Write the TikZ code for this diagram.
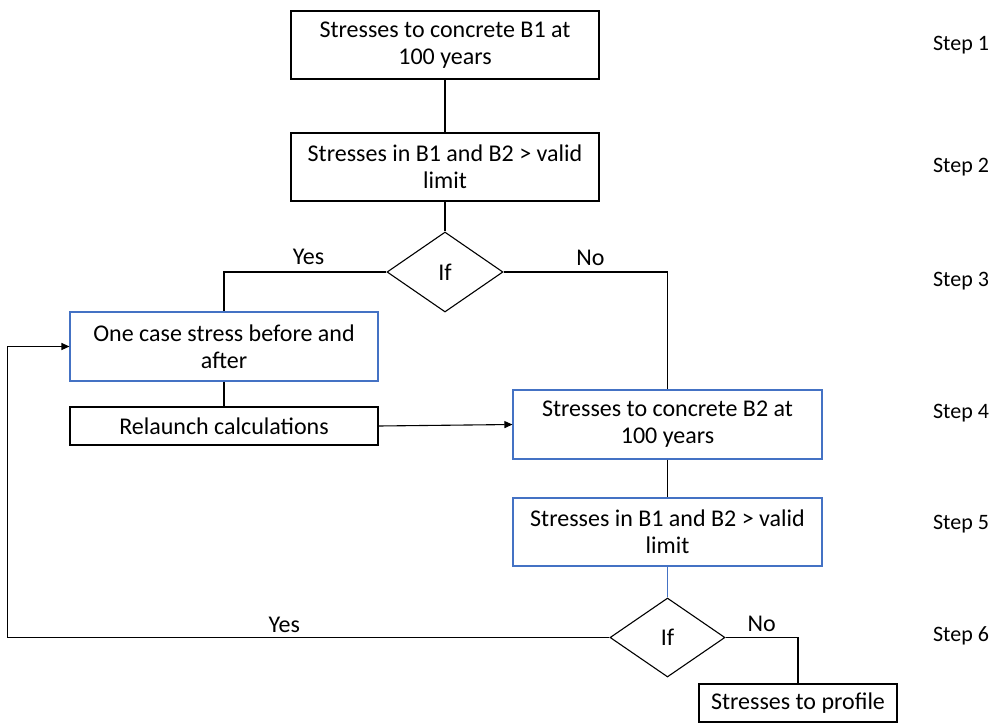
\documentclass[tikz,border=0pt]{standalone}
\usepackage{fontspec}
\setmainfont{Carlito}
\usetikzlibrary{shapes.geometric,arrows.meta,positioning}

\definecolor{boxblue}{RGB}{68,114,196}

\tikzstyle{blk} = [rectangle, minimum width=308pt, minimum height=68pt, text centered, align=center, draw=black, line width=1.1pt, fill=white]
\tikzstyle{blu} = [blk, draw=boxblue]
\tikzstyle{dec} = [diamond, minimum width=116pt, minimum height=80pt, inner sep=0pt, draw=black, line width=1.1pt, fill=white]
\tikzstyle{lbl} = [inner sep=0pt]

\begin{document}
\begin{tikzpicture}[x=1pt, y=-1pt, font=\fontsize{24}{27}\selectfont]
        \useasboundingbox[fill=white] (0,0) rectangle (997,723);
        \node (b1) [blk] at (445,45) {Stresses to concrete B1 at\\100 years};
        \node (b2) [blk] at (445,167) {Stresses in B1 and B2 > valid\\limit};
        \node (if1) [dec] at (445,272) {If};
        \node (onecase) [blu, minimum height=69pt] at (224,346.5) {One case stress before and\\after};
        \node (relaunch) [blk, minimum height=38pt] at (224,426) {Relaunch calculations};
        \node (c2) [blu, minimum width=309pt, minimum height=69pt] at (667.5,424.5) {Stresses to concrete B2 at\\100 years};
        \node (b5) [blu, minimum width=309pt] at (667.5,532) {Stresses in B1 and B2 > valid\\limit};
        \node (if2) [dec, minimum width=115pt, minimum height=79pt] at (667.5,637.5) {If};
        \node (profile) [blk, minimum width=198pt, minimum height=38pt] at (798,703) {Stresses to profile};

        \draw [line width=1.1pt] (b1) -- (b2);
        \draw [line width=1.1pt] (b2) -- (if1);
        \draw [line width=1.1pt] (if1.west) -| node[lbl, pos=0.24, above=7pt] {Yes} (onecase.north);
        \draw [line width=1.1pt] (if1.east) -| node[lbl, pos=0.265, above=6pt] {No} (c2.north);
        \draw [line width=1.1pt] (onecase) -- (relaunch);
        \draw [line width=1.1pt, -{Triangle[length=8pt, width=7pt]}] (relaunch.east) -- (c2.west);
        \draw [line width=1.1pt] (c2) -- (b5);
        \draw [line width=1.1pt, draw=boxblue] (b5) -- (if2);
        \draw [line width=1.1pt, -{Triangle[length=8pt, width=7pt]}] (if2.west) -- ++(-602,0) node[lbl, pos=0.54, above=4pt] {Yes} |- (onecase.west);
        \draw [line width=1.1pt] (if2.east) -| node[lbl, pos=0.25, above=5pt] {No} (profile.north);

        % step labels
        \foreach \s/\y in {1/45, 2/167, 3/281, 4/413, 5/524, 6/636}
            \node (step\s) [lbl, font=\fontsize{22}{26}\selectfont] at (961,\y) {Step \s};
    \end{tikzpicture}
\end{document}
